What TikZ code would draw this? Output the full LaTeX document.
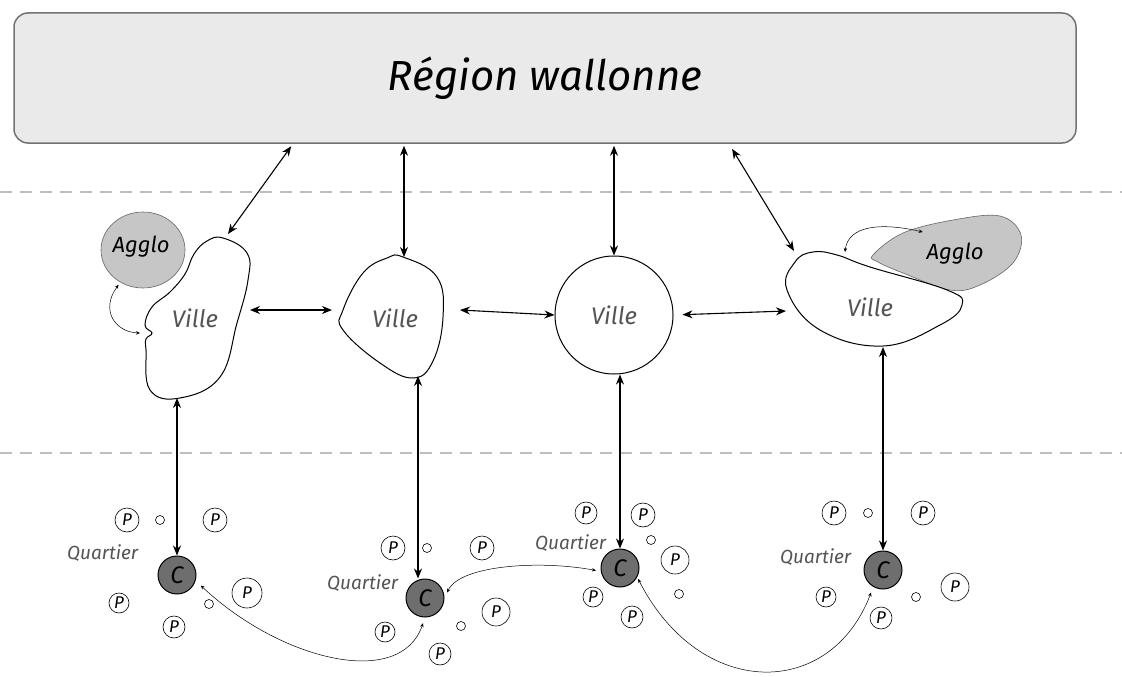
\documentclass[tikz,border=0pt]{standalone}
\usepackage{fontspec}
\setmainfont{Fira Sans}
\usetikzlibrary{arrows.meta,calc,positioning,shapes.geometric}
\definecolor{boxgray}{HTML}{EAEAEA}
\definecolor{agglogray}{HTML}{C6C6C6}
\definecolor{cgray}{HTML}{6E6E6E}
\definecolor{dashgray}{HTML}{BDBDBD}
\definecolor{labelgray}{HTML}{555555}

\begin{document}
\begin{tikzpicture}[x=1pt,y=-1pt,>={Stealth[length=10pt,width=8pt]},line width=1pt,
	link/.style={<->,line width=1.1pt},
	thinlink/.style={<->,>={Stealth[length=4pt,width=3.5pt]},line width=0.5pt},
	blob/.style={draw,fill=white,line width=1pt},
	agglo/.style={draw=black!60,line width=0.6pt,fill=agglogray},
	town/.style={text=labelgray,font=\itshape\fontsize{24}{24}\selectfont},
	aggtext/.style={font=\itshape\fontsize{22}{22}\selectfont},
	centre/.style={circle,draw,fill=cgray,minimum size=38pt,inner sep=0pt,font=\itshape\fontsize{24}{24}\selectfont},
	park/.style={circle,draw,line width=0.6pt,minimum size=#1,inner sep=0pt,font=\itshape\fontsize{17}{17}\selectfont},
	park/.default=24pt,
	dot/.style={circle,draw,line width=0.6pt,minimum size=9pt,inner sep=0pt},
	quart/.style={anchor=east,text=labelgray,font=\itshape\fontsize{19}{19}\selectfont},
	level/.style={draw=dashgray,line width=1.5pt,dash pattern=on 12pt off 8pt}]
	\useasboundingbox (0,0) rectangle (1122,677);
	% region
	\node[draw=black!55,line width=1.5pt,fill=boxgray,rounded corners=14pt,minimum width=1062pt,minimum height=130pt,font=\itshape\fontsize{42}{42}\selectfont] (region) at (545,78) {Région wallonne};
	\draw[level] (0,192) -- (1122,192);
	\draw[level] (0,453) -- (1122,453);
	% villes
	\node[agglo,ellipse,minimum width=84pt,minimum height=76pt] (agglo1) at (143,250) {};
	\draw[blob] plot[smooth cycle,tension=0.7] coordinates {(223,238) (247,253) (248,280) (237,323) (220,377) (180,398) (150,390) (146,350) (146,339) (152,333) (145,325) (152,307) (170,292) (185,274) (194,254) (207,241)};
	\node[aggtext] at (141,247) {Agglo};
	\node[town] (ville1) at (195,318) {Ville};
	\draw[blob] plot[smooth cycle,tension=0.7] coordinates {(403,257) (437,277) (443,317) (433,361) (413,378) (380,363) (343,330) (343,310) (363,273) (387,258)};
	\node[town] (ville2) at (395,318) {Ville};
	\node[town,circle,draw=black,line width=1pt,minimum size=118pt] (ville3) at (614,315) {Ville};
	\draw[agglo] plot[smooth cycle,tension=0.6] coordinates {(873,255) (903,233) (953,220) (1000,216) (1021,235) (1013,263) (980,285) (950,290) (903,273) (878,262)};
	\node[aggtext] (agglo4) at (955,254) {Agglo};
	\draw[blob] plot[smooth cycle,tension=0.7] coordinates {(813,252) (837,255) (870,267) (947,290) (962,305) (940,325) (883,346) (820,330) (787,290) (795,262)};
	\node[town] (ville4) at (870,307) {Ville};
	% points on the outlines
	\coordinate (v1n) at (228,234);
	\coordinate (v1e) at (250,310);
	\coordinate (v1w) at (140,333);
	\coordinate (v1s) at (177,398);
	\coordinate (v2n) at (404,257);
	\coordinate (v2e) at (460,310);
	\coordinate (v2w) at (332,310);
	\coordinate (v2s) at (418,376);
	\coordinate (v4n) at (794,251);
	\coordinate (v4w) at (786,311);
	\coordinate (v4s) at (883,347);
	\coordinate (v4t) at (845,252);
	% quartiers
	\node[centre] (c1) at (177,575) {C};
	\node[quart] (q1) at (142,553) {Quartier};
	\node[park] (p11) at (127,520) {P};
	\node[park] (p12) at (215,520) {P};
	\node[park=30pt] (p13) at (247,593) {P};
	\node[park=20pt] (p14) at (119,603) {P};
	\node[park=22pt] (p15) at (174,627) {P};
	\node[dot] (d11) at (160,520) {};
	\node[dot] (d12) at (209,604) {};
	\node[centre] (c2) at (425,598) {C};
	\node[quart] (q2) at (402,583) {Quartier};
	\node[park] (p21) at (393,548) {P};
	\node[park] (p22) at (482,548) {P};
	\node[park=28pt] (p23) at (496,612) {P};
	\node[park=20pt] (p24) at (385,632) {P};
	\node[park=22pt] (p25) at (440,654) {P};
	\node[dot] (d21) at (427,548) {};
	\node[dot] (d22) at (461,626) {};
	\node[centre] (c3) at (620,568) {C};
	\node[quart] (q3) at (610,543) {Quartier};
	\node[park=22pt] (p31) at (586,513) {P};
	\node[park] (p32) at (643,515) {P};
	\node[park=28pt] (p33) at (675,560) {P};
	\node[park=20pt] (p34) at (593,597) {P};
	\node[park=22pt] (p35) at (632,617) {P};
	\node[dot] (d31) at (651,540) {};
	\node[dot] (d32) at (679,594) {};
	\node[centre] (c4) at (883,570) {C};
	\node[quart] (q4) at (855,557) {Quartier};
	\node[park] (p41) at (834,513) {P};
	\node[park] (p42) at (923,513) {P};
	\node[park=28pt] (p43) at (955,587) {P};
	\node[park=20pt] (p44) at (826,597) {P};
	\node[park=22pt] (p45) at (881,618) {P};
	\node[dot] (d41) at (868,513) {};
	\node[dot] (d42) at (916,597) {};
	% links
	\draw[link,shorten >=3pt] (v1n) -- (region.south -| 293,0);
	\draw[link,shorten >=2pt] (v2n) -- (region.south -| v2n);
	\draw[link,shorten >=2pt] (ville3.north) -- (region.south -| ville3.north);
	\draw[link,shorten >=6pt] (v4n) -- (region.south -| 729,0);
	\draw[link] (v1e) -- (v2w);
	\draw[link] (v2e) -- (ville3.west);
	\draw[link,shorten <=9pt] (ville3.east) -- (v4w);
	\draw[link] (v1s) -- (c1.north);
	\draw[link] (v2s) -- (c2.north -| v2s);
	\draw[link] (ville3.south -| c3.north) -- (c3.north);
	\draw[link] (v4s) -- (c4.north);
	\draw[thinlink,shorten <=3pt] (agglo1.-125) .. controls (100,310) and (115,332) .. (v1w);
	\draw[thinlink] (v4t) .. controls (848,226) and (880,222) .. (agglo4.west |- 0,232);
	\draw[thinlink,shorten <=7pt,shorten >=6pt] (c1.-17) .. controls (280,660) and (400,690) .. (c2.-90);
	\draw[thinlink,shorten <=6pt,shorten >=5pt] (c2.0) .. controls (460,565) and (540,560) .. (c3.190);
	\draw[thinlink,shorten <=2pt,shorten >=6pt] (c3.-28) .. controls (700,700) and (830,700) .. (c4.-120);
\end{tikzpicture}
\end{document}
